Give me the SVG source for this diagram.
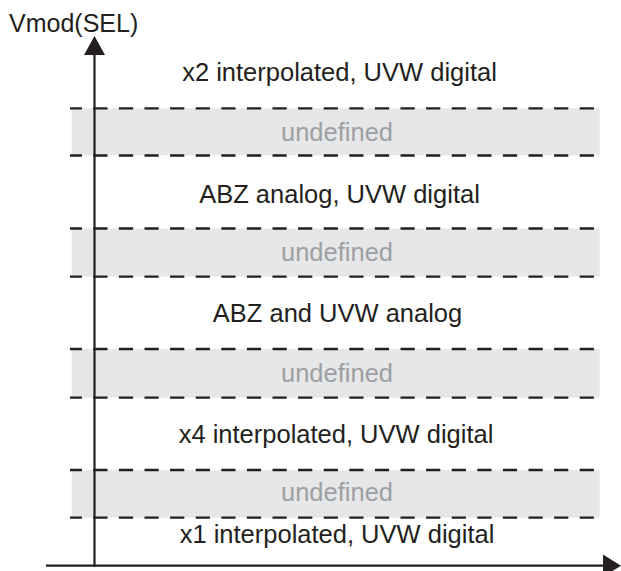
<svg xmlns="http://www.w3.org/2000/svg" width="621" height="571" viewBox="0 0 621 571">
<defs>
<style>
.band{fill:#e6e7e8;stroke:none}
.dash{stroke:#231f20;stroke-width:2.3;stroke-dasharray:14.2 11.4;stroke-dashoffset:2.3;fill:none}
.axis{stroke:#231f20;stroke-width:2.2;fill:none}
.head{fill:#231f20}
.lbl{font-family:"Liberation Sans",Arial,sans-serif;font-size:25.5px;fill:#231f20;text-anchor:middle}
.und{font-family:"Liberation Sans",Arial,sans-serif;font-size:25.5px;fill:#9d9fa2;text-anchor:middle}
.ax{font-family:"Liberation Sans",Arial,sans-serif;font-size:25px;fill:#231f20}
</style>
</defs>
<rect width="621" height="571" fill="#ffffff"/>
<g id="band1">
<rect class="band" x="71.7" y="108.3" width="528" height="47"/>
<text class="und" x="337" y="141">undefined</text>
</g>
<g id="band2">
<rect class="band" x="71.7" y="228.5" width="528" height="48.2"/>
<text class="und" x="337" y="261">undefined</text>
</g>
<g id="band3">
<rect class="band" x="71.7" y="349" width="528" height="48.7"/>
<text class="und" x="337" y="381.5">undefined</text>
</g>
<g id="band4">
<rect class="band" x="71.7" y="470" width="528" height="47.7"/>
<text class="und" x="337" y="501">undefined</text>
</g>
<g id="connectors">
<line class="dash" x1="70" y1="108.3" x2="594" y2="108.3"/>
<line class="dash" x1="70" y1="155.5" x2="594" y2="155.5"/>
<line class="dash" x1="70" y1="228.5" x2="594" y2="228.5"/>
<line class="dash" x1="70" y1="276.7" x2="594" y2="276.7"/>
<line class="dash" x1="70" y1="349" x2="594" y2="349"/>
<line class="dash" x1="70" y1="397.7" x2="594" y2="397.7"/>
<line class="dash" x1="70" y1="470" x2="594" y2="470"/>
<line class="dash" x1="70" y1="517.7" x2="594" y2="517.7"/>
<line class="axis" x1="94.5" y1="566.8" x2="94.5" y2="52"/>
<polygon class="head" points="94.5,36 84,55 105,55"/>
<line class="axis" x1="46" y1="565.7" x2="606" y2="565.7"/>
<polygon class="head" points="621,565.7 603,554.5 603,576.9"/>
</g>
<g id="labels">
<text class="ax" x="9" y="31.5">Vmod(SEL)</text>
<text class="lbl" x="339.5" y="81">x2 interpolated, UVW digital</text>
<text class="lbl" x="339.5" y="202.5">ABZ analog, UVW digital</text>
<text class="lbl" x="337.5" y="321.7">ABZ and UVW analog</text>
<text class="lbl" x="336" y="442.7">x4 interpolated, UVW digital</text>
<text class="lbl" x="337" y="543.3">x1 interpolated, UVW digital</text>
</g>
</svg>
